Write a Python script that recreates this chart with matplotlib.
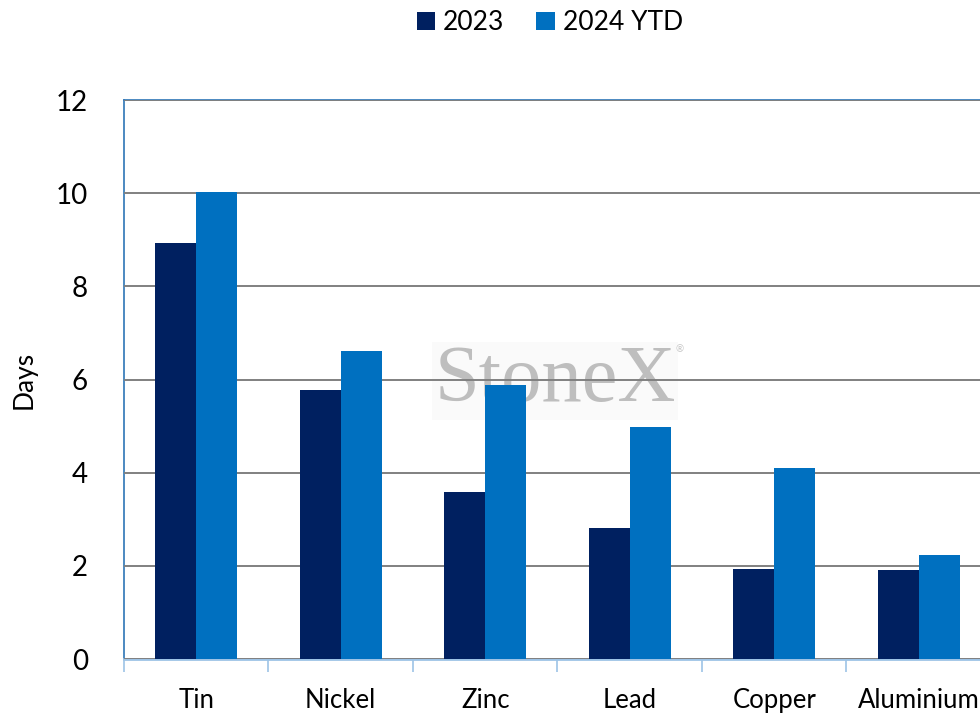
import matplotlib.pyplot as plt
import numpy as np
from matplotlib.ticker import FixedLocator

metals = ["Tin", "Nickel", "Zinc", "Lead", "Copper", "Aluminium"]
days_2023 = [8.93, 5.77, 3.59, 2.81, 1.93, 1.91]
days_2024_ytd = [10.03, 6.61, 5.88, 4.98, 4.10, 2.23]
series_labels = ["2023", "2024 YTD"]
y_ticks = [0, 2, 4, 6, 8, 10, 12]

c_2023 = "#002060"
c_2024 = "#0070C0"

plt.rcParams["font.family"] = ["Lato", "DejaVu Sans"]

fig = plt.figure(figsize=(9.8, 7.16), dpi=100)
ax = fig.add_axes([0.1265, 0.0796, 0.8847, 0.7807])

x = np.arange(len(metals))
w = 0.284
b1 = ax.bar(x - w / 2, days_2023, w, color=c_2023, label=series_labels[0], zorder=3)
b2 = ax.bar(x + w / 2, days_2024_ytd, w, color=c_2024, label=series_labels[1], zorder=3)

ax.set_xlim(-0.5, len(metals) - 0.5)
ax.set_ylim(0, 12)
ax.set_yticks(y_ticks)
ax.yaxis.grid(True, color="#808080", linewidth=1.4, zorder=2)
ax.set_axisbelow(False)

ax.set_xticks(x)
ax.set_xticklabels(metals, fontsize=18.5)
ax.xaxis.set_minor_locator(FixedLocator(np.arange(-0.5, len(metals), 1.0)))
ax.tick_params(axis="x", which="major", length=0, pad=21)
ax.tick_params(axis="x", which="minor", length=9, width=1.2, color="#9DC3E6", direction="out")
ax.tick_params(axis="y", length=0, labelsize=20, pad=26)

for s in ["top", "left"]:
    ax.spines[s].set_color("#2E75B6")
    ax.spines[s].set_linewidth(1.2)
ax.spines["bottom"].set_color("#9DC3E6")
ax.spines["bottom"].set_linewidth(2.0)
ax.spines["right"].set_visible(False)

ax.set_ylabel("Days", fontsize=19, labelpad=14)

# watermark
ax.text(0.4975, 0.497, "StoneX", transform=ax.transAxes, ha="center", va="center",
        fontsize=58, family=["Liberation Serif", "DejaVu Serif"], color="#BEBEBE",
        zorder=1,
        bbox=dict(boxstyle="square,pad=0.03", facecolor="#FAFAFA", edgecolor="none"))
ax.text(0.641, 0.553, "®", transform=ax.transAxes, ha="center", va="center",
        fontsize=7, color="#C4C4C4", zorder=1)

fig.legend(handles=[b1, b2], labels=series_labels, loc="center", bbox_to_anchor=(0.561, 0.968),
           ncol=2, frameon=False, fontsize=19, handlelength=0.7, handleheight=0.7,
           handletextpad=0.3, columnspacing=1.2)

fig.savefig("out.png", dpi=100)
